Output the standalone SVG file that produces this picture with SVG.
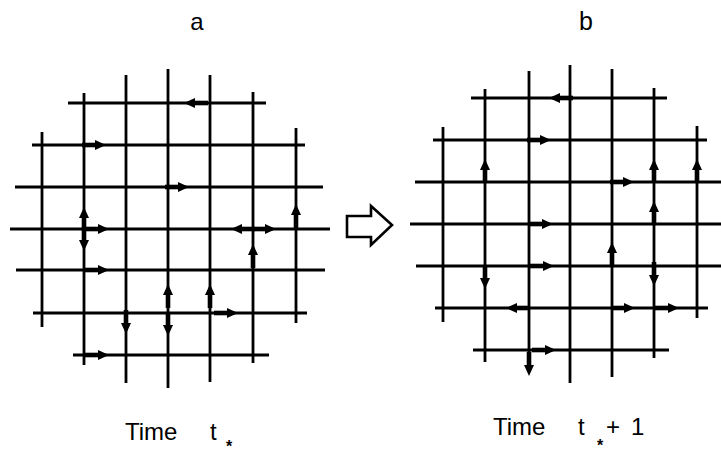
<svg xmlns="http://www.w3.org/2000/svg" xmlns:xlink="http://www.w3.org/1999/xlink" width="721" height="456" viewBox="0 0 721 456">
<style>
.g line{stroke:#000;stroke-width:2.8;stroke-linecap:butt}
.t{font-family:"Liberation Sans",Arial,sans-serif;fill:#000}
.s{font-family:"Liberation Sans",Arial,sans-serif;fill:#000;font-weight:bold;font-size:16px}
</style>
<defs>
<g id="ah"><path d="M6,0 L-5,-5 L-5,5 Z" fill="#000"/><rect x="-18" y="-2.3" width="14" height="4.6" fill="#000"/></g>
</defs>
<rect width="721" height="456" fill="#fff"/>
<g id="grid-a" class="g">
<line x1="42" y1="132" x2="42" y2="327"/>
<line x1="84" y1="93" x2="84" y2="365"/>
<line x1="126" y1="75" x2="126" y2="383"/>
<line x1="168" y1="69" x2="168" y2="388"/>
<line x1="210" y1="75" x2="210" y2="382"/>
<line x1="253" y1="92" x2="253" y2="363"/>
<line x1="296" y1="128" x2="296" y2="323"/>
<line x1="68" y1="103" x2="266" y2="103"/>
<line x1="32" y1="145" x2="305" y2="145"/>
<line x1="15" y1="187" x2="323" y2="187"/>
<line x1="10" y1="229" x2="330" y2="229"/>
<line x1="16" y1="270" x2="325" y2="270"/>
<line x1="33" y1="313" x2="307" y2="313"/>
<line x1="73" y1="355" x2="269" y2="355"/>
</g>
<g id="arrows-a">
<use xlink:href="#ah" transform="translate(190,103) rotate(180)"/>
<use xlink:href="#ah" transform="translate(100,145)"/>
<use xlink:href="#ah" transform="translate(183,187)"/>
<use xlink:href="#ah" transform="translate(84,213) rotate(-90)"/>
<use xlink:href="#ah" transform="translate(84,245) rotate(90)"/>
<use xlink:href="#ah" transform="translate(103,229)"/>
<use xlink:href="#ah" transform="translate(103,270)"/>
<use xlink:href="#ah" transform="translate(126,328) rotate(90)"/>
<use xlink:href="#ah" transform="translate(168,290) rotate(-90)"/>
<use xlink:href="#ah" transform="translate(168,330) rotate(90)"/>
<use xlink:href="#ah" transform="translate(210,290) rotate(-90)"/>
<use xlink:href="#ah" transform="translate(232,313)"/>
<use xlink:href="#ah" transform="translate(237,229) rotate(180)"/>
<use xlink:href="#ah" transform="translate(270,229)"/>
<use xlink:href="#ah" transform="translate(253,250) rotate(-90)"/>
<use xlink:href="#ah" transform="translate(296,210) rotate(-90)"/>
<use xlink:href="#ah" transform="translate(103,355)"/>
</g>
<g id="grid-b" class="g">
<line x1="443" y1="127" x2="443" y2="322"/>
<line x1="485" y1="89" x2="485" y2="362"/>
<line x1="529" y1="71" x2="529" y2="372"/>
<line x1="570" y1="65" x2="570" y2="383"/>
<line x1="612" y1="69" x2="612" y2="377"/>
<line x1="654" y1="88" x2="654" y2="358"/>
<line x1="697" y1="126" x2="697" y2="318"/>
<line x1="471" y1="98" x2="667" y2="98"/>
<line x1="433" y1="140" x2="707" y2="140"/>
<line x1="415" y1="182" x2="721" y2="182"/>
<line x1="410" y1="224" x2="721" y2="224"/>
<line x1="416" y1="266" x2="721" y2="266"/>
<line x1="435" y1="308" x2="708" y2="308"/>
<line x1="473" y1="350" x2="669" y2="350"/>
</g>
<g id="arrows-b">
<use xlink:href="#ah" transform="translate(555,98) rotate(180)"/>
<use xlink:href="#ah" transform="translate(545,140)"/>
<use xlink:href="#ah" transform="translate(485,165) rotate(-90)"/>
<use xlink:href="#ah" transform="translate(628,182)"/>
<use xlink:href="#ah" transform="translate(654,165) rotate(-90)"/>
<use xlink:href="#ah" transform="translate(697,165) rotate(-90)"/>
<use xlink:href="#ah" transform="translate(654,207) rotate(-90)"/>
<use xlink:href="#ah" transform="translate(547,224)"/>
<use xlink:href="#ah" transform="translate(548,266)"/>
<use xlink:href="#ah" transform="translate(485,283) rotate(90)"/>
<use xlink:href="#ah" transform="translate(612,248) rotate(-90)"/>
<use xlink:href="#ah" transform="translate(654,280) rotate(90)"/>
<use xlink:href="#ah" transform="translate(512,308) rotate(180)"/>
<use xlink:href="#ah" transform="translate(629,308)"/>
<use xlink:href="#ah" transform="translate(673,308)"/>
<use xlink:href="#ah" transform="translate(550,350)"/>
<use xlink:href="#ah" transform="translate(529,370) rotate(90)"/>
</g>
<g id="transition-arrow">
<path d="M347,216 L371,216 L371,206 L392,225 L371,245 L371,237 L347,237 Z" fill="#fff" stroke="#000" stroke-width="2.6" stroke-linejoin="miter"/>
</g>
<g id="labels">
<text class="t" x="197" y="30" font-size="24" text-anchor="middle">a</text>
<text class="t" x="586" y="30" font-size="25" text-anchor="middle">b</text>
<text class="t" x="125" y="440" font-size="24">Time</text>
<text class="t" x="210" y="440" font-size="24">t</text>
<text class="s" x="229" y="452" text-anchor="middle">*</text>
<text class="t" x="493" y="435" font-size="24">Time</text>
<text class="t" x="578" y="435" font-size="24">t</text>
<text class="s" x="600" y="451" text-anchor="middle">*</text>
<text class="t" x="606" y="435" font-size="24">+</text>
<text class="t" x="631" y="435" font-size="24">1</text>
</g>
</svg>
